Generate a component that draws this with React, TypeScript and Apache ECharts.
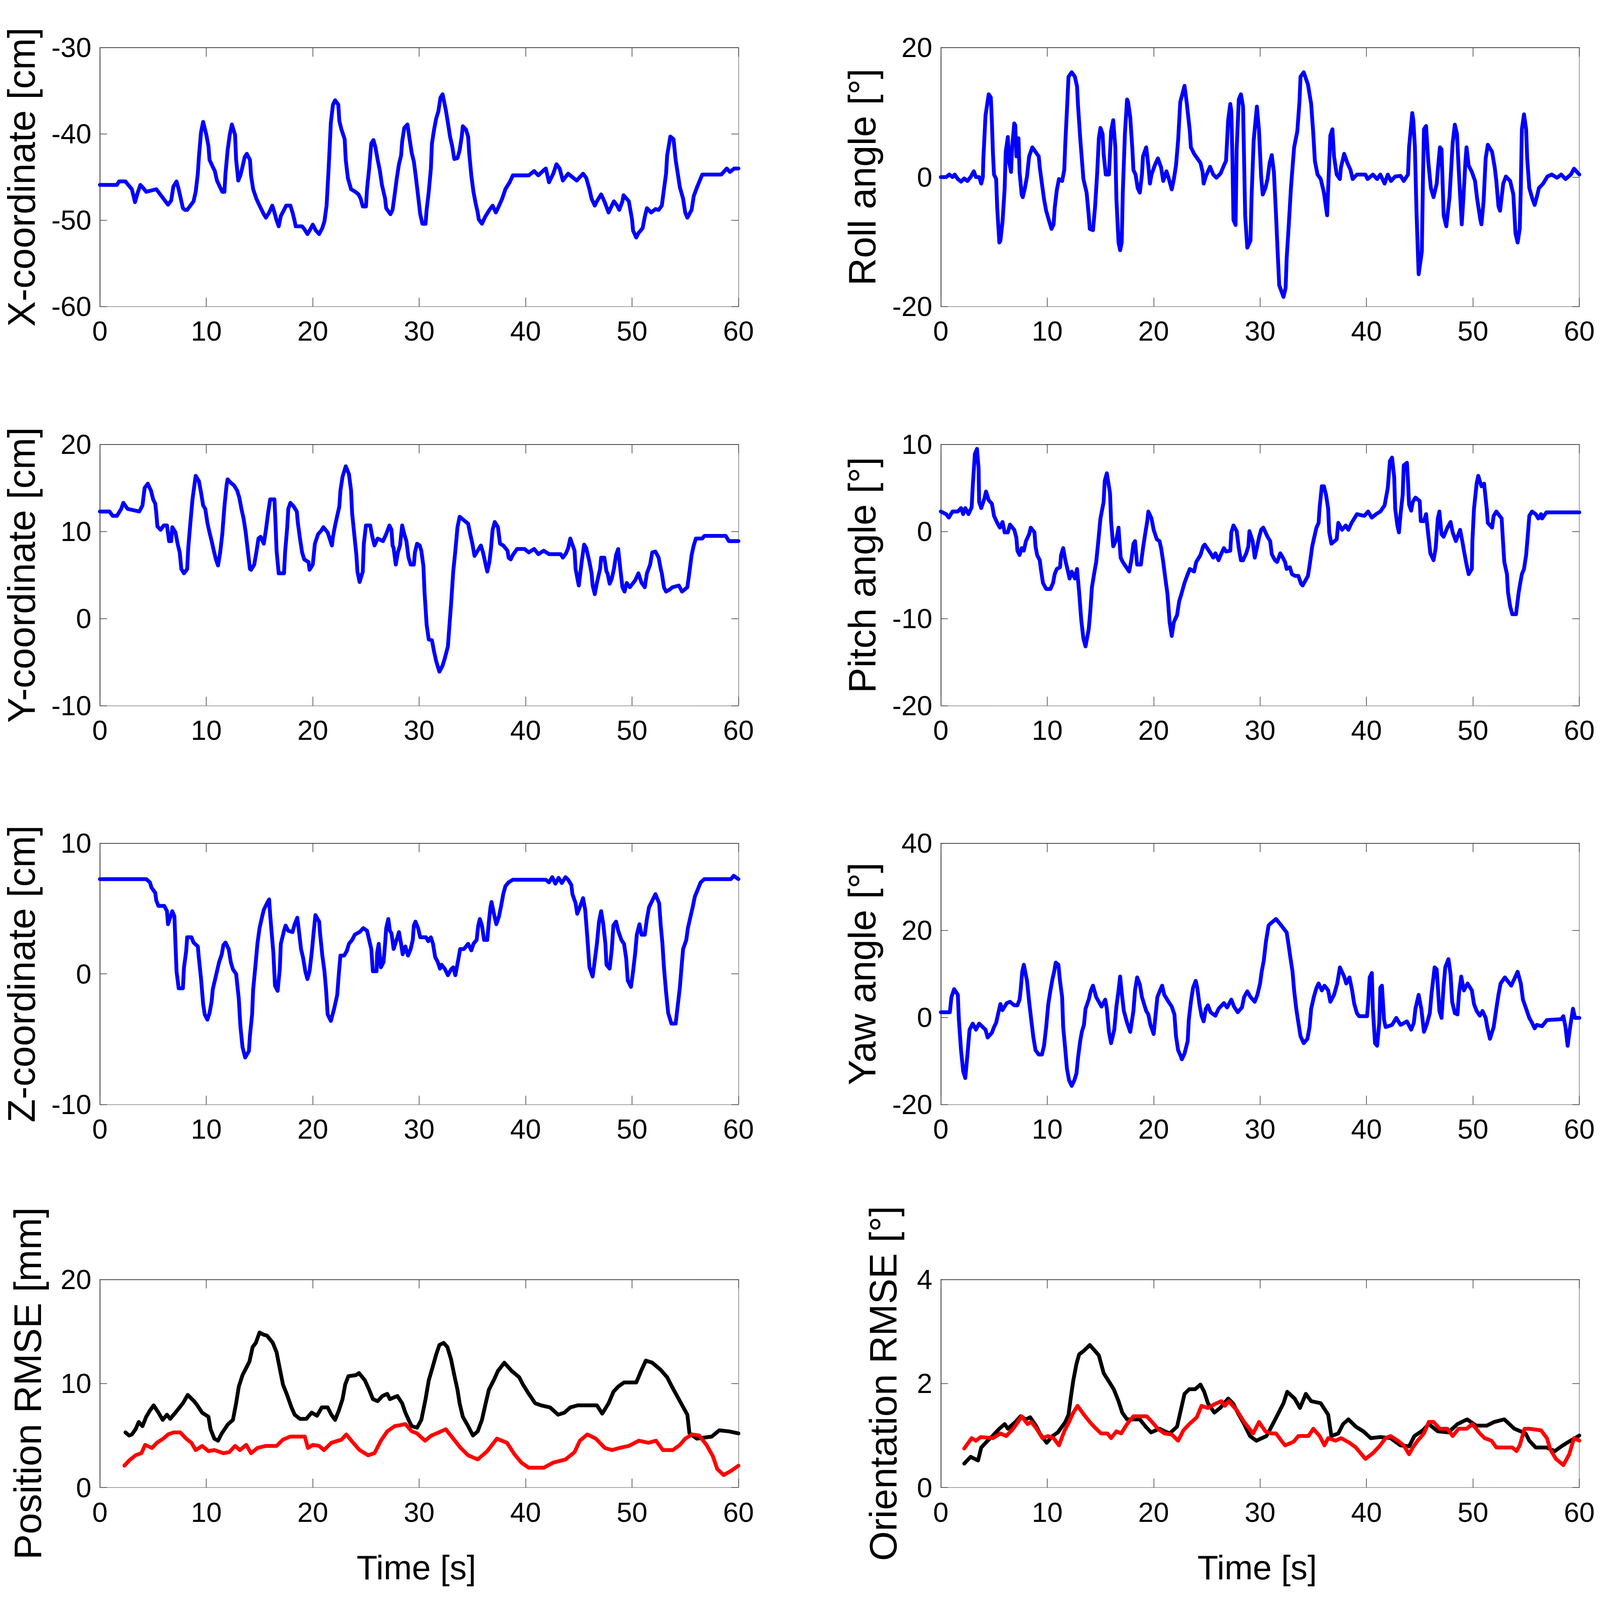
import React, { useEffect, useRef } from 'react';
import * as echarts from 'echarts';

type P = [number, number][];

const xCoord: P = [[0,-45.9],[1.6,-45.9],[1.8,-45.5],[2.4,-45.5],[2.6,-45.8],[3.0,-46.4],[3.3,-47.9],[3.5,-47.0],[3.8,-45.9],[4.1,-46.3],[4.35,-46.7],[5.3,-46.4],[6.4,-48.2],[6.7,-47.7],[6.9,-46.1],[7.2,-45.5],[7.4,-46.4],[7.6,-47.5],[7.8,-48.6],[8.0,-48.8],[8.2,-48.8],[8.8,-47.8],[9.0,-46.7],[9.2,-44.6],[9.3,-42.7],[9.5,-39.8],[9.7,-38.6],[10.0,-40.1],[10.2,-41.4],[10.3,-43.0],[10.6,-43.8],[10.8,-44.3],[11.0,-45.4],[11.3,-46.2],[11.5,-46.7],[11.7,-46.7],[11.8,-44.6],[12.0,-41.9],[12.2,-40.1],[12.4,-38.9],[12.7,-40.1],[12.8,-43.0],[13.0,-45.4],[13.2,-44.8],[13.4,-43.8],[13.6,-42.7],[13.8,-42.3],[14.1,-43.0],[14.2,-44.8],[14.4,-46.4],[14.7,-47.5],[15.0,-48.3],[15.4,-49.3],[15.6,-49.7],[15.9,-49.1],[16.2,-48.3],[16.4,-49.1],[16.6,-50.0],[16.8,-50.7],[17.0,-49.5],[17.3,-48.8],[17.5,-48.3],[17.9,-48.3],[18.1,-49.1],[18.3,-50.1],[18.4,-50.7],[19.0,-50.7],[19.2,-51.0],[19.5,-51.6],[19.7,-51.2],[20.0,-50.5],[20.3,-51.2],[20.6,-51.6],[20.9,-50.9],[21.1,-50.1],[21.3,-48.3],[21.5,-43.8],[21.7,-38.7],[21.9,-36.6],[22.1,-36.1],[22.4,-36.6],[22.5,-38.5],[22.7,-39.5],[23.0,-40.6],[23.1,-43.0],[23.3,-45.1],[23.6,-46.4],[24.0,-46.7],[24.3,-47.0],[24.5,-47.5],[24.7,-48.4],[25.0,-48.4],[25.1,-46.4],[25.3,-44.0],[25.5,-41.1],[25.7,-40.7],[25.9,-41.6],[26.1,-43.0],[26.3,-44.2],[26.5,-45.9],[26.8,-47.5],[26.9,-48.6],[27.3,-49.3],[27.5,-48.8],[27.7,-47.0],[27.9,-45.1],[28.1,-43.5],[28.3,-42.5],[28.4,-40.9],[28.6,-39.3],[28.9,-38.9],[29.1,-40.6],[29.3,-42.2],[29.5,-43.2],[29.7,-45.1],[29.9,-47.2],[30.1,-49.3],[30.3,-50.4],[30.6,-50.4],[30.7,-48.8],[30.9,-46.7],[31.1,-44.0],[31.2,-41.1],[31.4,-39.5],[31.6,-38.2],[31.8,-37.4],[32.0,-35.8],[32.2,-35.4],[32.5,-37.2],[32.7,-38.7],[32.9,-40.3],[33.1,-41.4],[33.3,-42.9],[33.6,-42.8],[33.8,-41.9],[34.0,-40.3],[34.1,-39.1],[34.4,-39.5],[34.6,-40.3],[34.7,-42.2],[34.9,-44.8],[35.1,-46.7],[35.3,-48.0],[35.5,-49.1],[35.6,-49.9],[35.9,-50.4],[36.2,-49.6],[36.6,-48.8],[36.9,-48.3],[37.2,-49.1],[37.4,-48.6],[37.8,-47.5],[38.1,-46.4],[38.5,-45.6],[38.8,-44.8],[40.3,-44.8],[40.8,-44.3],[41.2,-44.8],[41.7,-44.2],[41.9,-44.0],[42.2,-45.6],[42.6,-44.6],[42.9,-43.5],[43.2,-44.0],[43.5,-45.4],[44.0,-44.6],[44.8,-45.4],[45.4,-44.6],[45.7,-45.1],[46.0,-46.4],[46.2,-47.5],[46.5,-48.3],[46.7,-47.8],[47.1,-47.0],[47.4,-47.8],[47.8,-49.1],[48.1,-48.3],[48.3,-47.8],[48.6,-48.3],[48.8,-48.8],[49.1,-47.8],[49.2,-47.1],[49.7,-47.8],[50.0,-49.9],[50.1,-51.2],[50.4,-52.0],[50.6,-51.5],[51.0,-50.9],[51.2,-49.6],[51.4,-48.6],[51.8,-49.1],[52.2,-48.7],[52.5,-48.8],[52.8,-48.3],[53.0,-46.4],[53.2,-44.6],[53.3,-42.5],[53.6,-40.3],[53.9,-40.6],[54.1,-43.0],[54.3,-44.6],[54.5,-46.2],[54.8,-47.5],[55.0,-49.1],[55.2,-49.7],[55.6,-48.8],[55.8,-47.2],[56.1,-46.2],[56.3,-45.6],[56.6,-44.7],[58.4,-44.7],[58.9,-44.0],[59.2,-44.4],[59.6,-44.0],[60,-44.0]];

const yCoord: P = [[0,12.3],[0.9,12.3],[1.2,11.8],[1.6,11.8],[2.0,12.6],[2.2,13.3],[2.6,12.6],[3.7,12.3],[4.0,13.0],[4.2,15.0],[4.5,15.5],[4.8,14.7],[5.0,13.7],[5.2,13.2],[5.3,12.1],[5.4,10.6],[5.7,10.2],[6.0,10.7],[6.3,10.7],[6.5,8.9],[6.7,8.9],[6.8,10.5],[7.1,9.9],[7.3,8.6],[7.5,7.6],[7.65,5.7],[7.9,5.2],[8.2,5.7],[8.3,8.1],[8.5,11.0],[8.7,13.7],[8.9,15.5],[9.0,16.4],[9.3,15.8],[9.5,14.5],[9.7,13.0],[9.9,12.6],[10.1,11.0],[10.3,9.9],[10.5,8.9],[10.7,7.8],[10.9,6.8],[11.1,6.1],[11.3,7.6],[11.5,9.7],[11.7,12.9],[11.9,15.3],[12.0,16.0],[12.3,15.6],[12.6,15.3],[12.9,14.7],[13.1,13.9],[13.3,12.6],[13.5,11.5],[13.7,9.9],[13.9,7.8],[14.1,5.7],[14.2,5.6],[14.5,6.2],[14.7,7.6],[14.9,9.2],[15.1,9.4],[15.4,8.6],[15.6,10.2],[15.8,12.1],[16.0,13.7],[16.4,13.7],[16.5,11.0],[16.6,7.8],[16.8,5.2],[17.3,5.2],[17.4,7.6],[17.6,10.5],[17.7,12.6],[17.9,13.3],[18.2,12.9],[18.5,12.3],[18.6,11.0],[18.8,9.2],[19.0,7.6],[19.2,6.8],[19.6,6.5],[19.7,5.6],[20.0,6.2],[20.2,8.6],[20.5,9.7],[20.8,10.1],[21.0,10.5],[21.4,9.9],[21.8,8.4],[21.9,9.4],[22.1,10.7],[22.3,11.8],[22.5,12.9],[22.6,14.7],[22.8,16.3],[23.1,17.5],[23.4,16.6],[23.6,14.7],[23.7,12.1],[23.9,9.7],[24.1,7.3],[24.2,5.4],[24.4,4.2],[24.7,5.4],[24.8,8.6],[25.0,10.7],[25.4,10.7],[25.6,9.4],[25.8,8.4],[26.1,9.2],[26.6,8.9],[26.9,9.7],[27.2,10.7],[27.4,10.2],[27.5,8.4],[27.6,8.1],[27.8,6.2],[28.0,7.6],[28.2,8.4],[28.4,10.7],[28.6,9.7],[28.8,8.9],[29.0,7.0],[29.2,6.2],[29.5,6.2],[29.6,7.6],[29.8,8.6],[30.05,8.4],[30.2,7.8],[30.4,6.0],[30.5,3.1],[30.7,-0.7],[30.9,-2.4],[31.2,-2.5],[31.4,-3.8],[31.6,-4.9],[31.9,-6.1],[32.2,-5.4],[32.4,-4.6],[32.7,-3.2],[32.8,-1.5],[33.0,1.7],[33.2,5.4],[33.4,7.8],[33.6,10.5],[33.8,11.7],[34.1,11.4],[34.6,10.9],[34.8,9.7],[35.0,8.6],[35.2,7.2],[35.5,7.8],[35.8,8.4],[36.0,7.6],[36.25,6.2],[36.4,5.4],[36.6,6.5],[36.75,8.1],[36.9,10.2],[37.1,11.1],[37.4,10.5],[37.6,8.6],[37.9,8.4],[38.3,7.8],[38.4,7.0],[38.6,6.8],[38.8,7.3],[39.2,8.0],[39.9,8.0],[40.3,7.6],[40.8,8.0],[41.2,7.4],[41.7,7.8],[42.2,7.4],[43.3,7.4],[43.5,7.0],[43.8,7.5],[44.0,8.1],[44.2,9.2],[44.6,7.8],[44.7,5.7],[44.9,4.4],[45.0,3.8],[45.3,6.8],[45.5,8.5],[45.7,8.1],[46.0,6.5],[46.2,5.2],[46.3,3.8],[46.5,2.8],[46.7,4.1],[47.0,5.7],[47.1,7.0],[47.4,7.0],[47.6,5.4],[47.7,5.2],[47.9,4.0],[48.1,4.6],[48.3,5.7],[48.5,7.3],[48.7,8.0],[48.9,5.7],[49.1,3.6],[49.3,3.1],[49.5,4.1],[49.8,3.6],[50.3,4.4],[50.6,5.2],[50.9,4.1],[51.2,3.6],[51.4,5.2],[51.7,6.2],[51.9,7.6],[52.2,7.7],[52.5,7.0],[52.7,5.7],[52.8,5.2],[53.0,3.6],[53.2,3.1],[53.5,3.3],[53.8,3.6],[54.4,3.8],[54.7,3.1],[55.2,3.6],[55.4,5.4],[55.6,7.3],[55.8,8.4],[56.0,9.2],[56.6,9.2],[56.8,9.5],[58.8,9.5],[59.1,8.9],[60,8.9]];

const zCoord: P = [[0,7.25],[4.35,7.25],[4.7,7.0],[4.85,6.6],[5.2,6.2],[5.3,5.6],[5.5,5.2],[6.05,5.2],[6.3,4.8],[6.4,3.8],[6.6,4.3],[6.8,4.8],[7.0,4.4],[7.1,2.3],[7.2,0.2],[7.4,-1.1],[7.8,-1.1],[7.9,0.5],[8.1,1.7],[8.2,2.8],[8.6,2.8],[8.8,2.4],[9.2,2.1],[9.3,1.2],[9.5,-0.35],[9.7,-2.3],[9.85,-3.1],[10.1,-3.5],[10.3,-3.0],[10.5,-2.1],[10.6,-1.2],[10.8,-0.5],[11.0,0.2],[11.2,0.9],[11.45,1.5],[11.6,2.2],[11.8,2.4],[12.1,1.9],[12.3,0.9],[12.5,0.35],[12.8,0],[13.05,-1.9],[13.2,-4.0],[13.4,-5.6],[13.65,-6.4],[14.0,-5.9],[14.1,-4.7],[14.3,-3.1],[14.4,-1.2],[14.6,0.5],[14.8,2.3],[15.0,3.5],[15.25,4.4],[15.4,4.9],[15.7,5.4],[15.9,5.7],[16.0,4.5],[16.3,1.6],[16.45,-0.9],[16.7,-1.3],[16.9,0.35],[17.0,2.3],[17.3,3.3],[17.45,3.7],[17.7,3.3],[18.1,3.2],[18.3,3.8],[18.55,4.3],[18.7,3.3],[18.9,1.9],[19.1,1.2],[19.3,0.2],[19.5,-0.4],[19.7,0.2],[19.9,1.6],[20.1,3.3],[20.25,4.5],[20.6,4.0],[20.7,3.0],[20.9,1.4],[21.1,0.2],[21.25,-1.2],[21.4,-3.1],[21.7,-3.6],[22.0,-2.7],[22.3,-1.6],[22.45,0],[22.6,1.4],[22.95,1.4],[23.2,1.75],[23.4,2.3],[23.7,2.6],[23.95,3.0],[24.4,3.2],[24.75,3.5],[25.1,3.3],[25.3,2.6],[25.5,1.9],[25.65,0.2],[26.0,0.2],[26.05,1.6],[26.2,2.3],[26.4,0.5],[26.65,0.9],[26.8,2.3],[26.9,3.5],[27.1,4.2],[27.25,3.3],[27.4,3.1],[27.6,1.9],[27.8,2.4],[28.1,3.2],[28.3,2.3],[28.45,1.5],[28.7,2.1],[28.95,1.4],[29.2,1.9],[29.4,2.6],[29.5,3.7],[29.65,4.0],[29.9,3.5],[30.1,2.8],[30.65,2.8],[30.85,2.5],[31.1,2.8],[31.3,2.3],[31.5,1.3],[31.75,0.9],[31.95,0.4],[32.1,0.7],[32.4,0.4],[32.7,-0.1],[33.0,0.35],[33.2,0.5],[33.4,-0.1],[33.7,1.2],[33.85,1.9],[34.2,1.9],[34.6,2.3],[34.9,1.8],[35.1,2.3],[35.4,2.6],[35.55,3.7],[35.7,4.2],[35.9,3.7],[36.1,2.6],[36.4,2.6],[36.55,4.0],[36.7,5.1],[36.8,5.5],[37.05,4.5],[37.25,3.8],[37.5,4.4],[37.7,5.2],[37.9,6.1],[38.1,6.7],[38.4,7.0],[38.8,7.2],[41.9,7.2],[42.2,7.0],[42.5,7.4],[42.8,6.9],[43.1,7.35],[43.4,6.95],[43.75,7.4],[44.0,7.2],[44.3,6.8],[44.4,6.1],[44.7,5.4],[44.85,4.6],[45.1,5.1],[45.4,5.8],[45.6,4.9],[45.8,2.8],[46.0,0.5],[46.3,-0.2],[46.45,0.7],[46.7,2.3],[46.9,4.0],[47.1,4.8],[47.3,3.8],[47.5,2.3],[47.6,0.7],[47.9,0.4],[48.1,1.9],[48.25,3.7],[48.5,4.0],[48.7,3.3],[49.0,2.6],[49.25,2.3],[49.45,1.2],[49.6,-0.5],[49.9,-1.0],[50.1,0.2],[50.3,1.6],[50.45,3.0],[50.7,3.8],[50.9,3.0],[51.2,3.0],[51.4,4.2],[51.6,5.1],[51.9,5.6],[52.2,6.1],[52.55,5.4],[52.7,3.7],[52.85,2.4],[53.0,0.5],[53.2,-1.4],[53.4,-3.0],[53.7,-3.8],[54.1,-3.8],[54.3,-2.4],[54.5,-1.0],[54.65,0.5],[54.8,1.9],[55.1,2.6],[55.25,3.5],[55.5,4.4],[55.7,5.1],[55.9,5.9],[56.2,6.5],[56.45,7.0],[56.8,7.25],[59.3,7.25],[59.55,7.5],[60,7.25]];

const rollAngle: P = [[0,0],[0.5,0],[0.8,0.4],[1.1,0],[1.3,0.4],[1.6,-0.3],[1.9,-0.7],[2.2,-0.2],[2.5,-0.6],[2.8,0],[3.1,0.9],[3.3,0],[3.6,0],[3.8,-1.0],[3.95,0],[4.0,2.9],[4.2,9.5],[4.5,12.8],[4.7,12.3],[4.8,8.5],[4.9,3.6],[5.0,0.4],[5.2,-0.3],[5.3,-4.8],[5.5,-10.1],[5.6,-9.8],[5.8,-6.9],[6.0,-1.7],[6.1,3.9],[6.3,6.2],[6.4,2.5],[6.6,0.8],[6.7,4.6],[6.9,8.3],[7.0,8.0],[7.1,3.2],[7.3,6.0],[7.4,0.8],[7.6,-2.7],[7.7,-3.1],[7.9,-1.7],[8.1,0.1],[8.3,3.2],[8.6,4.6],[8.9,3.9],[9.2,3.2],[9.3,1.5],[9.5,-1.0],[9.7,-3.4],[9.9,-5.2],[10.2,-6.9],[10.4,-8.0],[10.6,-7.3],[10.7,-4.8],[10.9,-2.0],[11.1,-0.3],[11.4,-0.6],[11.6,1.1],[11.7,5.3],[11.9,12.0],[12.0,15.5],[12.3,16.2],[12.6,15.5],[12.8,14.0],[12.9,10.9],[13.1,6.0],[13.3,1.8],[13.4,-0.3],[13.7,-2.4],[13.9,-5.9],[14.0,-8.0],[14.3,-8.2],[14.5,-4.5],[14.7,0.8],[14.85,6.0],[15.0,7.6],[15.2,6.7],[15.3,3.6],[15.5,0.4],[15.8,0.4],[16.0,7.1],[16.2,8.8],[16.4,4.6],[16.5,-3.4],[16.7,-10.1],[16.85,-11.3],[17.0,-10.1],[17.1,-2.4],[17.3,6.7],[17.5,12.0],[17.6,11.6],[17.8,9.2],[18.0,4.3],[18.1,1.1],[18.3,0.4],[18.5,-1.7],[18.7,-2.4],[18.9,0.4],[19.0,3.2],[19.3,4.6],[19.5,1.8],[19.65,-1.0],[19.8,0.4],[20.1,1.8],[20.4,2.9],[20.7,1.5],[20.9,-0.6],[21.2,0.9],[21.4,-0.1],[21.7,-1.9],[21.9,-0.3],[22.1,1.8],[22.3,5.7],[22.5,11.6],[22.9,14.1],[23.1,11.6],[23.4,7.1],[23.5,4.6],[23.8,3.6],[24.1,2.9],[24.4,2.2],[24.6,0.8],[24.7,-1.0],[24.9,0.1],[25.3,1.6],[25.6,0.4],[25.9,-0.1],[26.3,0.6],[26.6,1.8],[26.8,2.5],[27.0,8.8],[27.2,11.3],[27.3,10.2],[27.4,2.9],[27.5,-6.6],[27.7,-7.4],[27.8,4.3],[28.0,12.0],[28.2,12.8],[28.4,10.9],[28.5,2.5],[28.6,-5.9],[28.8,-10.9],[29.1,-9.8],[29.2,-3.1],[29.4,5.7],[29.7,10.9],[29.9,7.2],[30.1,0.1],[30.25,-2.7],[30.5,-1.7],[30.7,-0.3],[30.9,2.2],[31.1,3.4],[31.3,0.8],[31.5,-5.9],[31.65,-11.5],[31.8,-16.7],[32.2,-18.5],[32.4,-17.1],[32.5,-12.5],[32.7,-7.3],[32.9,-1.7],[33.05,1.5],[33.2,4.6],[33.5,7.1],[33.7,11.6],[33.8,15.5],[34.1,16.2],[34.5,14.3],[34.8,11.3],[35.0,6.7],[35.15,2.5],[35.4,0.4],[35.7,-0.3],[36.0,-2.4],[36.3,-5.9],[36.4,-1.7],[36.6,6.4],[36.8,7.4],[36.95,3.2],[37.2,0.4],[37.5,-0.3],[37.6,1.5],[37.9,3.6],[38.2,2.2],[38.5,1.1],[38.7,-0.3],[39.1,0.4],[39.9,0.4],[40.1,-0.3],[40.6,0.4],[41.0,-0.3],[41.3,0.4],[41.7,-1.0],[42.0,0.4],[42.3,-0.6],[42.7,0.1],[43.2,0.2],[43.5,-0.6],[43.9,0.4],[44.0,4.6],[44.3,9.9],[44.4,8.8],[44.55,4.6],[44.7,-5.5],[44.9,-15.0],[45.2,-11.5],[45.3,-1.0],[45.4,7.4],[45.6,7.9],[45.8,2.5],[46.05,-1.7],[46.3,-3.1],[46.6,-1.0],[46.7,1.1],[46.9,4.6],[47.05,4.3],[47.25,-5.9],[47.5,-7.6],[47.8,-3.1],[48.1,5.3],[48.3,8.1],[48.5,6.7],[48.7,0.1],[48.95,-7.3],[49.1,-3.4],[49.3,2.5],[49.4,4.6],[49.6,1.8],[49.9,0.8],[50.2,-0.6],[50.4,-3.4],[50.7,-6.6],[50.8,-7.3],[51.0,-3.8],[51.2,2.9],[51.4,5.0],[51.8,3.9],[52.05,1.5],[52.2,-0.6],[52.4,-4.5],[52.55,-5.2],[52.85,-1.0],[53.1,0.1],[53.5,-0.6],[53.8,-2.7],[54.0,-8.7],[54.2,-10.1],[54.4,-8.0],[54.5,-1.7],[54.6,7.4],[54.8,9.7],[55.0,7.4],[55.1,2.9],[55.3,-1.7],[55.6,-3.4],[55.8,-4.3],[56.0,-3.1],[56.2,-1.7],[56.6,-1.0],[57.0,0.1],[57.4,0.4],[57.9,-0.1],[58.3,0.4],[58.7,-0.3],[59.2,0.4],[59.5,1.3],[60,0.4]];

const pitchAngle: P = [[0,2.3],[0.5,2.0],[0.75,1.6],[1.1,2.3],[1.6,2.3],[1.9,2.7],[2.1,2.0],[2.3,2.7],[2.6,2.0],[2.9,2.8],[3.0,5.2],[3.2,8.9],[3.4,9.5],[3.55,7.3],[3.6,3.4],[3.8,2.7],[4.1,3.8],[4.25,4.6],[4.5,3.6],[4.8,3.2],[5.0,1.8],[5.3,1.0],[5.55,0.45],[5.8,1.1],[6.0,-0.1],[6.3,-0.1],[6.5,0.8],[6.9,0.2],[7.1,-0.7],[7.2,-2.2],[7.4,-2.7],[7.6,-1.9],[7.8,-2.2],[8.0,-1.1],[8.3,-0.3],[8.45,0.45],[8.8,-0.1],[8.9,-1.7],[9.05,-2.7],[9.3,-3.3],[9.4,-4.3],[9.6,-5.9],[9.9,-6.6],[10.3,-6.6],[10.55,-5.9],[10.7,-4.9],[10.9,-4.3],[11.2,-4.1],[11.3,-2.7],[11.5,-1.9],[11.7,-3.3],[11.9,-4.3],[12.1,-5.4],[12.3,-4.6],[12.6,-5.4],[12.8,-4.3],[13.0,-7.0],[13.2,-10.2],[13.4,-12.3],[13.6,-13.2],[13.9,-11.2],[14.05,-9.1],[14.2,-6.4],[14.4,-4.9],[14.6,-3.5],[14.8,-1.1],[15.0,1.5],[15.3,3.4],[15.4,5.8],[15.6,6.7],[15.9,4.4],[16.0,1.2],[16.2,-1.7],[16.5,-0.9],[16.7,0.45],[16.9,-3.0],[17.1,-3.5],[17.7,-4.6],[17.9,-3.3],[18.1,-1.4],[18.25,-1.1],[18.45,-3.8],[18.8,-3.8],[19.0,-1.9],[19.2,-0.3],[19.4,1.2],[19.5,2.3],[19.8,1.5],[20.0,0.2],[20.3,-0.9],[20.55,-1.1],[20.7,-1.9],[20.9,-3.5],[21.1,-5.4],[21.3,-7.2],[21.5,-10.4],[21.7,-12.0],[21.9,-10.4],[22.2,-9.6],[22.4,-8.0],[22.6,-7.2],[22.9,-5.9],[23.2,-4.9],[23.4,-4.3],[23.8,-4.6],[24.0,-3.5],[24.4,-2.7],[24.65,-1.7],[24.8,-1.5],[25.35,-2.5],[25.6,-3.0],[25.8,-2.5],[26.1,-3.3],[26.3,-2.7],[26.6,-1.9],[26.8,-2.3],[27.2,-2.2],[27.3,-0.1],[27.5,0.7],[27.8,0.05],[28.0,-1.9],[28.2,-3.3],[28.4,-3.3],[28.7,-2.5],[28.9,-1.7],[29.0,0.05],[29.3,-1.1],[29.5,-3.0],[29.7,-1.9],[29.9,-0.7],[30.1,0.2],[30.3,0.45],[30.7,-0.6],[30.95,-1.1],[31.1,-2.6],[31.4,-3.3],[31.6,-3.5],[31.9,-2.5],[32.1,-2.9],[32.35,-3.5],[32.5,-4.3],[32.8,-4.1],[33.0,-4.9],[33.3,-5.1],[33.6,-5.1],[33.85,-6.0],[34.0,-6.2],[34.5,-5.1],[34.7,-3.5],[34.9,-1.7],[35.1,-0.6],[35.3,0.45],[35.5,1.0],[35.6,2.8],[35.8,5.2],[36.0,5.2],[36.2,4.2],[36.4,2.6],[36.5,-0.1],[36.7,-1.4],[37.2,-0.9],[37.35,1.0],[37.7,0.2],[38.05,0.7],[38.3,0.2],[38.6,1.0],[39.1,2.0],[39.8,1.8],[40.15,2.3],[40.5,1.6],[40.9,2.0],[41.3,2.3],[41.7,3.0],[42.0,5.0],[42.2,8.1],[42.4,8.5],[42.6,6.3],[42.7,2.6],[42.9,0.7],[43.05,-0.1],[43.2,2.0],[43.4,4.2],[43.5,7.6],[43.8,7.9],[43.9,5.8],[44.0,3.1],[44.2,2.4],[44.35,3.4],[44.6,3.9],[45.0,3.5],[45.1,1.2],[45.4,1.2],[45.6,2.0],[45.8,-0.3],[46.0,-2.5],[46.3,-3.3],[46.5,-1.9],[46.7,1.5],[46.85,2.3],[47.05,-0.3],[47.25,-0.6],[47.6,0.45],[47.9,1.1],[48.1,-0.1],[48.4,-1.1],[48.55,-0.6],[48.8,0.2],[49.0,-1.1],[49.2,-2.5],[49.4,-3.8],[49.6,-4.9],[49.9,-4.3],[49.95,-1.1],[50.1,2.6],[50.35,5.5],[50.5,6.4],[50.8,5.2],[51.05,5.5],[51.3,2.6],[51.4,1.0],[51.8,0.45],[51.95,1.8],[52.2,2.3],[52.7,1.5],[52.8,-0.6],[52.95,-3.5],[53.2,-4.9],[53.3,-7.0],[53.5,-8.6],[53.7,-9.5],[54.05,-9.5],[54.3,-7.0],[54.45,-5.9],[54.6,-4.9],[54.8,-4.3],[55.0,-2.7],[55.2,0.2],[55.3,1.8],[55.55,2.3],[55.9,2.0],[56.15,1.5],[56.4,2.0],[56.5,1.5],[56.9,2.2],[60,2.2]];

const yawAngle: P = [[0,1.2],[0.85,1.2],[1.0,4.7],[1.25,6.5],[1.6,5.2],[1.7,-0.6],[1.9,-7.5],[2.1,-12.3],[2.3,-13.9],[2.5,-8.6],[2.7,-2.8],[3.0,-1.4],[3.3,-2.8],[3.6,-1.4],[4.2,-2.8],[4.4,-4.6],[4.8,-3.5],[5.0,-2.2],[5.2,-1.2],[5.4,1.0],[5.6,3.1],[5.8,1.7],[6.2,3.3],[6.5,3.6],[6.9,2.8],[7.2,2.8],[7.4,4.1],[7.5,6.2],[7.65,10.5],[7.8,12.1],[8.1,8.4],[8.3,3.6],[8.5,-0.6],[8.7,-4.6],[8.9,-7.5],[9.2,-8.5],[9.5,-8.5],[9.7,-6.5],[9.9,-2.2],[10.1,3.1],[10.3,6.2],[10.5,8.9],[10.65,10.5],[10.8,12.6],[11.05,12.1],[11.2,8.4],[11.4,4.7],[11.5,-2.2],[11.7,-7.5],[11.85,-11.7],[12.05,-14.4],[12.3,-15.7],[12.55,-14.4],[12.75,-12.8],[12.9,-9.1],[13.1,-5.4],[13.25,-3.3],[13.45,-1.7],[13.6,2.0],[13.9,4.1],[14.1,6.2],[14.3,7.3],[14.6,4.7],[15.1,2.5],[15.45,4.1],[15.6,2.0],[15.8,-3.3],[16.0,-5.9],[16.3,-2.8],[16.5,2.5],[16.7,6.2],[16.85,9.4],[17.0,5.7],[17.2,1.5],[17.5,-1.2],[17.8,-3.3],[18.1,1.5],[18.25,6.2],[18.45,9.2],[18.7,7.6],[18.9,4.7],[19.1,3.1],[19.3,1.5],[19.5,0.7],[19.7,-1.7],[20.0,-3.8],[20.2,1.0],[20.35,4.7],[20.6,6.2],[20.8,7.3],[21.0,5.2],[21.4,3.6],[21.7,2.5],[21.95,0.7],[22.1,-4.3],[22.3,-7.5],[22.5,-8.6],[22.65,-9.6],[22.9,-8.3],[23.2,-5.4],[23.3,-0.6],[23.5,3.6],[23.7,6.8],[23.95,8.4],[24.1,6.8],[24.3,3.1],[24.5,0.4],[24.7,-0.9],[24.9,2.0],[25.1,2.8],[25.35,1.2],[25.8,0.4],[26.1,2.0],[26.6,3.3],[26.9,2.3],[27.3,4.1],[27.55,2.5],[27.9,1.2],[28.3,2.3],[28.5,4.7],[28.8,6.0],[29.1,4.7],[29.5,3.6],[29.75,5.2],[30.0,7.8],[30.15,10.5],[30.35,13.1],[30.55,17.4],[30.8,21.1],[31.0,21.6],[31.5,22.6],[32.0,21.1],[32.5,19.5],[32.7,16.3],[32.85,13.7],[33.05,10.5],[33.2,6.2],[33.4,2.0],[33.6,-1.2],[33.8,-4.3],[34.1,-5.9],[34.45,-4.9],[34.65,-2.2],[34.8,2.0],[35.05,4.7],[35.3,6.8],[35.5,7.8],[35.8,6.2],[36.05,7.3],[36.4,6.2],[36.6,3.6],[36.95,5.2],[37.25,7.8],[37.5,11.5],[37.9,9.4],[38.1,7.8],[38.4,9.2],[38.65,6.2],[38.85,3.1],[39.1,1.0],[39.3,0.3],[40.05,0.3],[40.15,3.1],[40.3,9.2],[40.5,10.2],[40.6,2.0],[40.8,-5.9],[41.0,-6.5],[41.2,-1.2],[41.3,6.8],[41.45,7.3],[41.65,-0.6],[41.8,-2.2],[42.4,-1.7],[42.8,-0.1],[43.2,-1.7],[43.8,-0.9],[44.2,-2.8],[44.45,-1.2],[44.6,2.0],[44.9,5.2],[45.15,2.0],[45.4,-3.3],[45.65,-1.7],[45.95,1.0],[46.1,5.2],[46.4,11.5],[46.6,11.0],[46.85,1.5],[47.05,-0.1],[47.25,7.3],[47.4,11.5],[47.7,13.4],[47.9,9.9],[48.05,3.6],[48.3,1.0],[48.55,0.7],[48.7,5.7],[48.9,9.4],[49.15,6.2],[49.5,7.8],[49.9,6.2],[50.1,3.1],[50.35,1.5],[50.65,0.4],[50.9,1.5],[51.2,-0.1],[51.35,-2.2],[51.6,-4.9],[51.95,-2.2],[52.2,2.0],[52.4,5.2],[52.6,7.8],[53.0,9.2],[53.6,7.3],[54.0,9.4],[54.2,10.5],[54.5,7.8],[54.7,4.1],[55.0,2.0],[55.3,-0.1],[55.55,-1.2],[55.8,-2.5],[56.0,-1.7],[56.5,-2.0],[56.95,-0.6],[58.3,-0.4],[58.5,0.3],[58.7,-2.2],[58.9,-6.5],[59.1,-2.8],[59.4,2.0],[59.6,-0.1],[60,-0.1]];

const posRmseBlack: P = [[2.4,5.3],[2.75,5.0],[3.0,5.1],[3.35,5.6],[3.65,6.3],[4.0,5.9],[4.35,6.8],[4.7,7.4],[5.05,7.9],[5.5,7.2],[5.9,6.5],[6.3,7.0],[6.6,6.6],[7.1,7.2],[7.8,8.1],[8.25,8.9],[8.85,8.3],[9.15,7.9],[9.6,7.2],[10.2,6.8],[10.4,5.6],[10.75,4.7],[11.1,4.5],[11.45,5.2],[12.05,6.1],[12.5,6.5],[12.8,8.1],[13.05,9.7],[13.4,10.8],[13.75,11.5],[14.05,12.1],[14.35,13.5],[14.65,13.9],[15.0,14.9],[15.35,14.7],[15.7,14.6],[16.25,13.9],[16.6,13.0],[16.85,11.7],[17.2,9.9],[17.55,9.0],[18.0,7.7],[18.3,7.0],[18.8,6.6],[19.4,6.6],[19.9,7.2],[20.4,6.9],[20.85,7.7],[21.4,7.7],[21.75,7.0],[22.1,6.5],[22.45,7.4],[22.8,8.5],[23.05,9.9],[23.35,10.7],[24.05,10.8],[24.35,11.0],[24.9,10.3],[25.3,9.4],[25.65,8.5],[26.1,8.3],[26.55,8.8],[27.0,9.0],[27.25,8.5],[27.95,8.8],[28.4,8.1],[28.7,7.2],[29.1,6.3],[29.3,5.9],[29.8,5.75],[30.2,6.5],[30.6,8.5],[30.9,10.3],[31.3,11.7],[31.6,12.8],[31.9,13.7],[32.3,13.9],[32.65,13.5],[33.0,12.3],[33.3,10.8],[33.6,9.4],[33.8,8.1],[34.1,6.8],[34.6,5.9],[35.05,5.0],[35.5,5.4],[35.9,6.5],[36.25,8.1],[36.55,9.4],[37.0,10.3],[37.4,11.2],[38.0,12.0],[38.7,11.2],[39.4,10.6],[39.75,9.9],[40.3,9.0],[40.9,8.1],[41.45,7.9],[42.3,7.7],[43.05,7.0],[43.65,7.2],[44.2,7.7],[44.9,7.9],[46.7,7.9],[47.2,7.1],[47.8,8.1],[48.25,9.2],[48.7,9.7],[49.25,10.1],[50.4,10.1],[50.85,11.2],[51.3,12.2],[51.9,12.0],[52.7,11.3],[53.3,10.6],[53.75,9.7],[54.5,8.3],[55.2,7.0],[55.4,5.2],[56.1,4.7],[57.5,4.9],[58.2,5.5],[59.1,5.4],[60,5.2]];

const posRmseRed: P = [[2.3,2.1],[2.75,2.6],[3.35,3.1],[3.9,3.3],[4.25,4.1],[4.9,3.8],[5.35,4.3],[5.95,4.7],[6.4,5.1],[6.95,5.3],[7.55,5.3],[8.1,4.7],[8.6,4.3],[9.0,3.6],[9.6,4.0],[10.2,3.5],[10.75,3.6],[11.6,3.3],[12.15,3.4],[12.7,4.0],[13.15,3.6],[13.75,4.1],[14.2,3.3],[14.8,3.8],[15.6,4.0],[16.6,4.0],[17.2,4.6],[17.9,4.9],[19.25,4.9],[19.55,3.8],[20.0,4.1],[20.6,4.0],[21.05,3.6],[21.75,4.3],[22.7,4.6],[23.15,5.1],[23.8,4.3],[24.4,3.6],[25.2,3.1],[25.8,3.3],[26.4,4.5],[27.0,5.4],[27.7,5.9],[28.25,6.0],[28.7,6.1],[29.3,5.4],[29.8,5.2],[30.55,4.5],[31.15,5.0],[31.85,5.3],[32.5,5.6],[33.2,4.7],[33.9,3.8],[34.6,3.1],[35.5,2.7],[36.4,3.5],[37.3,4.7],[38.25,4.3],[38.95,3.2],[39.6,2.4],[40.3,1.9],[41.7,1.9],[42.6,2.4],[43.75,2.7],[44.6,3.4],[45.1,4.5],[45.8,5.1],[46.6,4.7],[47.45,3.8],[48.1,3.6],[48.8,3.8],[49.7,4.0],[50.65,4.5],[51.55,4.3],[52.25,4.5],[52.9,3.6],[53.85,3.6],[54.5,4.1],[55.0,4.7],[55.65,5.1],[56.3,5.0],[57.0,4.1],[57.6,3.0],[58.0,1.8],[58.6,1.2],[59.3,1.6],[60,2.1]];

const oriRmseBlack: P = [[2.2,0.46],[2.8,0.59],[3.5,0.52],[3.8,0.77],[4.4,0.9],[4.9,1.0],[5.5,1.13],[6.0,1.22],[6.3,1.13],[7.0,1.26],[7.5,1.37],[8.0,1.31],[8.4,1.35],[9.0,1.17],[9.3,1.04],[9.95,0.86],[10.5,0.99],[11.0,1.06],[11.7,1.26],[12.0,1.4],[12.2,1.71],[12.45,2.06],[12.75,2.38],[13.0,2.56],[13.45,2.63],[14.0,2.74],[14.85,2.54],[15.3,2.2],[16.25,1.89],[16.7,1.66],[17.05,1.44],[17.5,1.31],[18.7,1.31],[19.25,1.17],[19.75,1.06],[20.55,1.13],[21.5,1.04],[22.2,1.17],[22.5,1.44],[22.9,1.8],[23.35,1.89],[23.9,1.89],[24.4,1.98],[24.75,1.84],[25.1,1.62],[25.7,1.44],[26.25,1.53],[27.0,1.71],[27.45,1.62],[27.9,1.44],[28.5,1.22],[29.05,0.99],[29.65,0.9],[30.6,0.99],[31.3,1.26],[31.75,1.44],[32.2,1.62],[32.55,1.84],[33.25,1.71],[33.75,1.53],[34.3,1.8],[34.8,1.66],[35.7,1.62],[36.4,1.4],[36.7,0.99],[37.35,1.04],[37.8,1.22],[38.3,1.31],[39.0,1.17],[39.7,1.08],[40.4,0.95],[41.3,0.97],[42.25,0.95],[43.2,0.81],[44.0,0.79],[44.5,0.99],[45.3,1.1],[45.85,1.22],[46.7,1.08],[47.7,1.06],[48.55,1.22],[49.45,1.31],[50.3,1.19],[51.3,1.19],[52.0,1.26],[52.95,1.31],[53.9,1.13],[54.95,1.04],[55.3,0.9],[55.9,0.77],[56.9,0.77],[57.7,0.7],[58.3,0.79],[59.0,0.88],[60,1.0]];

const oriRmseRed: P = [[2.2,0.75],[2.9,0.95],[3.3,0.9],[3.75,0.97],[4.9,0.95],[5.6,1.04],[6.15,0.99],[6.8,1.13],[7.25,1.26],[7.6,1.37],[8.15,1.22],[8.5,1.26],[9.0,1.13],[9.55,0.95],[10.05,0.99],[10.6,0.95],[11.1,0.81],[11.6,1.08],[12.05,1.26],[12.45,1.44],[12.85,1.57],[13.45,1.4],[14.0,1.26],[14.4,1.17],[15.05,1.04],[15.65,1.04],[16.0,0.95],[16.5,1.08],[16.95,1.04],[17.5,1.22],[18.1,1.37],[19.35,1.37],[19.85,1.26],[20.4,1.13],[21.0,1.04],[21.7,1.02],[22.3,0.9],[22.8,1.1],[23.35,1.22],[24.05,1.35],[24.5,1.57],[25.1,1.53],[25.7,1.6],[26.35,1.66],[26.7,1.57],[27.05,1.66],[27.8,1.49],[28.5,1.26],[29.35,1.04],[29.9,1.26],[30.5,1.08],[31.05,1.04],[31.5,1.04],[32.0,0.9],[32.35,0.81],[33.15,0.88],[33.6,0.99],[34.55,0.99],[35.0,1.13],[35.6,0.99],[36.05,0.81],[36.4,0.95],[37.1,0.9],[37.6,0.95],[38.4,0.86],[39.0,0.77],[39.45,0.66],[39.9,0.55],[40.6,0.66],[41.2,0.79],[41.8,0.95],[42.25,0.99],[42.95,0.9],[43.5,0.81],[44.0,0.64],[44.35,0.77],[44.8,0.9],[45.4,1.04],[45.85,1.26],[46.3,1.26],[46.9,1.13],[47.6,1.13],[48.1,0.99],[48.65,1.13],[49.4,1.13],[49.95,1.22],[50.65,1.04],[51.1,0.95],[51.75,0.9],[52.2,0.77],[53.7,0.77],[54.1,0.7],[54.4,0.81],[54.85,1.13],[55.3,1.13],[56.4,1.1],[56.95,0.95],[57.3,0.72],[57.8,0.55],[58.5,0.43],[59.05,0.64],[59.5,0.95],[60,0.9]];

const yTitles = [
  'X-coordinate [cm]', 'Y-coordinate [cm]', 'Z-coordinate [cm]', 'Position RMSE [mm]',
  'Roll angle [°]', 'Pitch angle [°]', 'Yaw angle [°]', 'Orientation RMSE [°]',
];
const yMins = [-60, -10, -10, 0, -20, -20, -20, 0];
const yMaxs = [-30, 20, 10, 20, 20, 10, 40, 4];
const yIntervals = [10, 10, 10, 10, 20, 10, 20, 2];
const xMin = 0;
const xMax = 60;
const xInterval = 10;
const xTitle = 'Time [s]';

const panelSeries: { data: P; color: string }[][] = [
  [{ data: xCoord, color: '#0000ff' }],
  [{ data: yCoord, color: '#0000ff' }],
  [{ data: zCoord, color: '#0000ff' }],
  [{ data: posRmseBlack, color: '#000000' }, { data: posRmseRed, color: '#ff0000' }],
  [{ data: rollAngle, color: '#0000ff' }],
  [{ data: pitchAngle, color: '#0000ff' }],
  [{ data: yawAngle, color: '#0000ff' }],
  [{ data: oriRmseBlack, color: '#000000' }, { data: oriRmseRed, color: '#ff0000' }],
];

// Layout in reference pixels (5653 x 4467), scaled to the actual viewport.
const REF_W = 5653;
const REF_H = 4467;
const FONT = '"Liberation Sans", Arial, Helvetica, sans-serif';
const COL_LEFT = [353, 3324];
const COL_WIDTH = 2256;
const ROW_TOP = [133, 1241, 2354, 3572];
const ROW_HEIGHT = [723, 729, 730, 581];
const TITLE_X = [[76, 76, 76, 98], [3046, 3046, 3046, 3121]];
const XTITLE_Y = 4376;

export default function App() {
  const ref = useRef<HTMLDivElement>(null);
  useEffect(() => {
    const el = ref.current;
    if (!el) return;
    const W = el.clientWidth || REF_W;
    const H = el.clientHeight || REF_H;
    const sx = W / REF_W;
    const sy = H / REF_H;
    const sm = Math.sqrt(sx * sy);
    const chart = echarts.init(el, null, { renderer: 'svg', width: W, height: H });
    const grids: any[] = [];
    const xAxes: any[] = [];
    const yAxes: any[] = [];
    const series: any[] = [];
    const graphics: any[] = [];
    const tickFs = 98 * sx;
    const titleFs = 120 * sm;
    for (let i = 0; i < 8; i++) {
      const col = i < 4 ? 0 : 1;
      const row = i % 4;
      const left = COL_LEFT[col] * sx;
      const top = ROW_TOP[row] * sy;
      const width = COL_WIDTH * sx;
      const height = ROW_HEIGHT[row] * sy;
      grids.push({ left, top, width, height, containLabel: false });
      const xBase = {
        type: 'value', gridIndex: i, min: xMin, max: xMax, interval: xInterval,
        splitLine: { show: false },
        axisTick: { inside: true, length: 25 * sy, lineStyle: { color: '#404040', width: 2 * sm } },
      };
      xAxes.push({
        ...xBase, position: 'bottom',
        axisLine: { show: true, onZero: false, lineStyle: { color: '#808080', width: 2 * sm } },
        axisLabel: { show: true, fontSize: tickFs, color: '#000', fontFamily: FONT, margin: 30 * sy },
      });
      xAxes.push({
        ...xBase, position: 'top',
        axisLine: { show: true, onZero: false, lineStyle: { color: '#000', width: 2 * sm } },
        axisLabel: { show: false },
      });
      const yBase = {
        type: 'value', gridIndex: i, min: yMins[i], max: yMaxs[i], interval: yIntervals[i],
        splitLine: { show: false },
        axisTick: { inside: true, length: 25 * sx, lineStyle: { color: '#404040', width: 2 * sm } },
      };
      yAxes.push({
        ...yBase, position: 'left',
        axisLine: { show: true, onZero: false, lineStyle: { color: '#000', width: 2 * sm } },
        axisLabel: { show: true, fontSize: tickFs, color: '#000', fontFamily: FONT, margin: 30 * sx },
      });
      yAxes.push({
        ...yBase, position: 'right',
        axisLine: { show: true, onZero: false, lineStyle: { color: '#808080', width: 2 * sm } },
        axisLabel: { show: false },
      });
      panelSeries[i].forEach((s) => {
        series.push({
          type: 'line', xAxisIndex: 2 * i, yAxisIndex: 2 * i, data: s.data,
          showSymbol: false, symbol: 'none', silent: true,
          lineStyle: { color: s.color, width: 12 * sm, join: 'round', cap: 'round' },
        });
      });
      graphics.push({
        type: 'text', x: TITLE_X[col][row] * sx, y: top + height / 2, rotation: Math.PI / 2,
        style: {
          text: yTitles[i], fontSize: titleFs, lineHeight: titleFs, fontFamily: FONT, fill: '#000',
          textAlign: 'center', textVerticalAlign: 'middle', verticalAlign: 'middle',
        },
      });
    }
    for (let c = 0; c < 2; c++) {
      graphics.push({
        type: 'text', x: (COL_LEFT[c] + COL_WIDTH / 2 - 10) * sx, y: XTITLE_Y * sy,
        style: {
          text: xTitle, fontSize: 120 * sx, lineHeight: 120 * sx, fontFamily: FONT, fill: '#000',
          textAlign: 'center', textVerticalAlign: 'middle', verticalAlign: 'middle',
        },
      });
    }
    chart.setOption({
      animation: false,
      backgroundColor: '#ffffff',
      grid: grids,
      xAxis: xAxes,
      yAxis: yAxes,
      series,
      graphic: graphics,
    });
    return () => chart.dispose();
  }, []);
  return (
    <div
      ref={ref}
      style={{ position: 'fixed', left: 0, top: 0, width: '100vw', height: '100vh', background: '#fff' }}
    />
  );
}
